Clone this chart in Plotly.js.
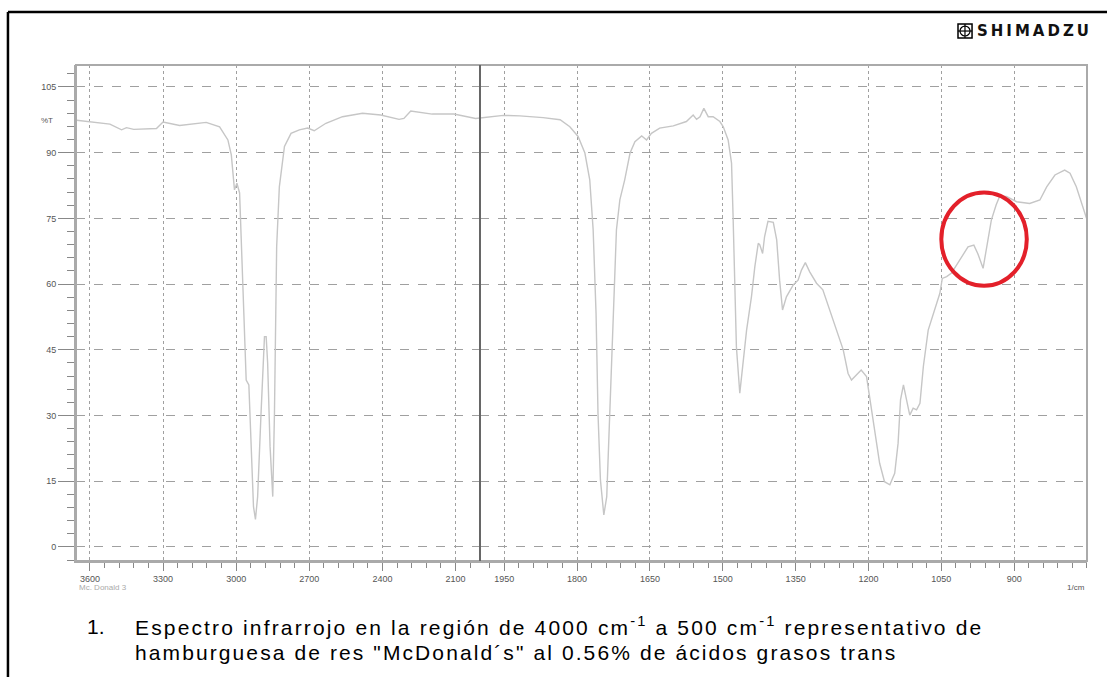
<!DOCTYPE html>
<html>
<head>
<meta charset="utf-8">
<script src="https://cdn.plot.ly/plotly-3.0.1.min.js"></script>
<style>
html,body{margin:0;padding:0;background:#fff;}
#chart{width:1107px;height:677px;}
g.annotation[data-index="3"] text{letter-spacing:3px;}
g.annotation[data-index="5"] text{letter-spacing:2.15px;}
g.annotation[data-index="6"] text{letter-spacing:2.1px;}
</style>
</head>
<body>
<div id="chart"></div>
<script>
// Left section (3650 - 2000 1/cm)
const leftWn = [3654,3600,3560,3518,3470,3450,3420,3382,3327,3300,3232,3123,3068,3034,3020,3007,2997,2986,2973,2959,2948,2939,2929,2921,2912,2898,2884,2877,2871,2861,2850,2843,2834,2823,2802,2775,2741,2707,2680,2632,2564,2482,2407,2332,2312,2284,2250,2196,2107,2018,2000];
const leftT  = [97.4,97.0,96.8,96.5,95.2,95.7,95.3,95.4,95.5,97.0,96.2,96.9,95.9,92.9,89.5,81.5,83.0,80.8,60.9,38.1,37.0,22.9,9.2,6.3,11.5,30.6,48.0,48.0,42.0,22.9,11.5,30.6,68.5,82.2,91.4,94.4,95.2,95.6,95.0,96.7,98.2,99.0,98.6,97.6,97.8,99.5,99.2,98.8,98.8,97.8,97.9];
// Right section (2000 - 750 1/cm)
const rightWn = [2000,1979,1952,1918,1870,1835,1815,1798,1784,1774,1767,1761,1757,1752,1745,1739,1733,1726,1719,1712,1702,1691,1681,1667,1657,1647,1630,1602,1575,1561,1554,1547,1539,1530,1520,1506,1499,1489,1482,1479,1475,1472,1465,1458,1451,1441,1434,1427,1424,1418,1414,1407,1396,1389,1383,1377,1369,1355,1345,1338,1330,1321,1307,1294,1280,1266,1252,1242,1235,1222,1215,1204,1198,1187,1177,1167,1156,1146,1139,1134,1128,1123,1115,1108,1101,1094,1087,1077,1063,1053,1048,1039,1029,1012,995,983,975,964,957,947,937,930,916,895,868,847,833,816,796,785,772,758,751];
const rightT  = [97.9,98.2,98.5,98.4,98.0,97.5,95.9,93.7,89.9,83.8,72.4,53.3,30.5,15.3,7.3,11.5,30.5,53.3,72.4,79.2,83.8,89.9,92.5,93.8,92.9,94.4,95.6,96.1,97.1,98.6,97.6,98.2,100.1,98.2,98.2,97.1,95.9,92.9,87.6,76.2,60.9,45.7,35.1,41.9,49.5,57.1,64.0,69.3,69.0,67.0,70.8,74.3,74.1,70.1,60.9,54.1,57.1,59.8,60.9,63.2,64.9,62.8,60.2,58.7,54.1,49.5,45.0,39.6,38.1,39.6,40.4,38.9,34.3,26.0,19.1,14.9,14.2,16.8,23.7,33.6,37.0,34.3,30.1,31.7,31.3,32.8,41.2,49.5,54.1,57.9,61.3,61.7,62.5,65.5,68.5,68.9,67.0,63.6,68.5,74.6,78.1,80.0,80.0,78.8,78.4,79.2,82.2,84.9,86.0,85.3,82.2,77.7,75.0];

const leftTicks = [3600,3300,3000,2700,2400,2100];
const rightTicks = [1950,1800,1650,1500,1350,1200,1050,900];
const yTicks = [0,15,30,45,60,75,90,105];

const captionLine1 = "Espectro infrarrojo en la región de 4000 cm<sup>-1</sup> a 500 cm<sup>-1</sup> representativo de";
const captionLine2 = "hamburguesa de res \"McDonald´s\" al 0.56% de ácidos grasos trans";

const split = 0.3996;
const lineCol = '#c6c6c6';
const tickFont = {family:'Liberation Sans, Arial, sans-serif', size:9, color:'#555'};
const capFont = {size:21, color:'#000', family:'Liberation Sans, Arial, sans-serif'};

const xCommon = {
  ticks:'outside', ticklen:8, tickwidth:1, tickcolor:'#888',
  showgrid:true, gridcolor:'#a0a0a0', griddash:'dot', gridwidth:1,
  zeroline:false, showline:true, linecolor:'#aaa', linewidth:2,
  tickfont:tickFont, tickmode:'array'
};

const traces = [
  {x:leftWn, y:leftT, xaxis:'x', yaxis:'y', type:'scatter', mode:'lines',
   line:{color:lineCol, width:1.4}, hoverinfo:'skip'},
  {x:rightWn, y:rightT, xaxis:'x2', yaxis:'y', type:'scatter', mode:'lines',
   line:{color:lineCol, width:1.4}, hoverinfo:'skip'}
];

const layout = {
  width:1107, height:677,
  margin:{l:76, r:20, t:65, b:116},
  paper_bgcolor:'#fff', plot_bgcolor:'#fff',
  showlegend:false,
  font:{family:'Liberation Sans, Arial, sans-serif'},
  xaxis: Object.assign({}, xCommon, {
    domain:[0, split], range:[3657, 2000], anchor:'y',
    tickvals:leftTicks, ticktext:leftTicks.map(String),
    minor:{tick0:0, dtick:60, ticks:'outside', ticklen:5, tickcolor:'#888', showgrid:false}
  }),
  xaxis2: Object.assign({}, xCommon, {
    domain:[split, 1], range:[2000, 750], anchor:'y',
    tickvals:rightTicks, ticktext:rightTicks.map(String),
    minor:{tick0:0, dtick:30, ticks:'outside', ticklen:5, tickcolor:'#888', showgrid:false}
  }),
  yaxis: {
    range:[-3.2, 110], anchor:'x',
    tickmode:'array', tickvals:yTicks, ticktext:yTicks.map(String),
    ticks:'outside', ticklen:16, tickwidth:1, tickcolor:'#888',
    minor:{tick0:0, dtick:3, ticks:'outside', ticklen:7, tickcolor:'#888', showgrid:false},
    showgrid:true, gridcolor:'#a0a0a0', griddash:'dash', gridwidth:1,
    zeroline:false, showline:true, linecolor:'#aaa', linewidth:2,
    tickfont:tickFont
  },
  shapes:[
    {type:'rect', xref:'paper', yref:'paper', x0:0, x1:1, y0:0, y1:1,
     line:{color:'#aaa', width:2}, layer:'above'},
    {type:'line', xref:'paper', yref:'paper', x0:split, x1:split, y0:0, y1:1,
     line:{color:'#666', width:2}, layer:'above'},
    {type:'circle', xref:'x2', yref:'y', x0:1050, x1:874, y0:59.6, y1:80.9,
     line:{color:'#e3202a', width:4}, layer:'above'},
    {type:'line', xref:'paper', yref:'paper', x0:-0.0673, x1:1.03, y0:1.1069, y1:1.1069,
     line:{color:'#000', width:2.5}},
    {type:'line', xref:'paper', yref:'paper', x0:-0.0673, x1:-0.0673, y0:1.1069, y1:-0.25,
     line:{color:'#000', width:2.5}},
    {type:'rect', xref:'paper', yref:'paper', x0:0.8724, x1:0.8863, y0:1.0544, y1:1.0826,
     line:{color:'#000', width:1.5}, fillcolor:'#fff'},
    {type:'circle', xref:'paper', yref:'paper', x0:0.8744, x1:0.8843, y0:1.0585, y1:1.0785,
     line:{color:'#000', width:1.2}},
    {type:'line', xref:'paper', yref:'paper', x0:0.8793, x1:0.8793, y0:1.0544, y1:1.0826,
     line:{color:'#000', width:1.2}},
    {type:'line', xref:'paper', yref:'paper', x0:0.8724, x1:0.8863, y0:1.0685, y1:1.0685,
     line:{color:'#000', width:1.2}}
  ],
  annotations:[
    {text:'%T', xref:'paper', yref:'y', x:-0.0208, y:97.3, xanchor:'right', yanchor:'middle',
     showarrow:false, font:{size:8, color:'#555'}},
    {text:'Mc. Donald 3', xref:'paper', yref:'paper', x:0.001, y:-0.0544, xanchor:'left', yanchor:'middle',
     showarrow:false, font:{size:8, color:'#aaa'}},
    {text:'1/cm', xref:'paper', yref:'paper', x:1, y:-0.0544, xanchor:'right', yanchor:'middle',
     showarrow:false, font:{size:8, color:'#555'}},
    {text:'<b>SHIMADZU</b>', xref:'paper', yref:'paper', x:0.8892, y:1.0685, xanchor:'left', yanchor:'middle', align:'left',
     showarrow:false, font:{size:15, color:'#111', family:'DejaVu Sans, Liberation Sans, sans-serif'}},
    {text:'1.', xref:'paper', yref:'paper', x:0.0089, y:-0.1311, xanchor:'left', yanchor:'middle',
     showarrow:false, font:capFont},
    {text:captionLine1, xref:'paper', yref:'paper', x:0.0564, y:-0.1311, xanchor:'left', yanchor:'middle', align:'left',
     showarrow:false, font:capFont},
    {text:captionLine2, xref:'paper', yref:'paper', x:0.0564, y:-0.1835, xanchor:'left', yanchor:'middle', align:'left',
     showarrow:false, font:capFont}
  ]
};

Plotly.newPlot('chart', traces, layout, {staticPlot:true, displayModeBar:false});
</script>
</body>
</html>
